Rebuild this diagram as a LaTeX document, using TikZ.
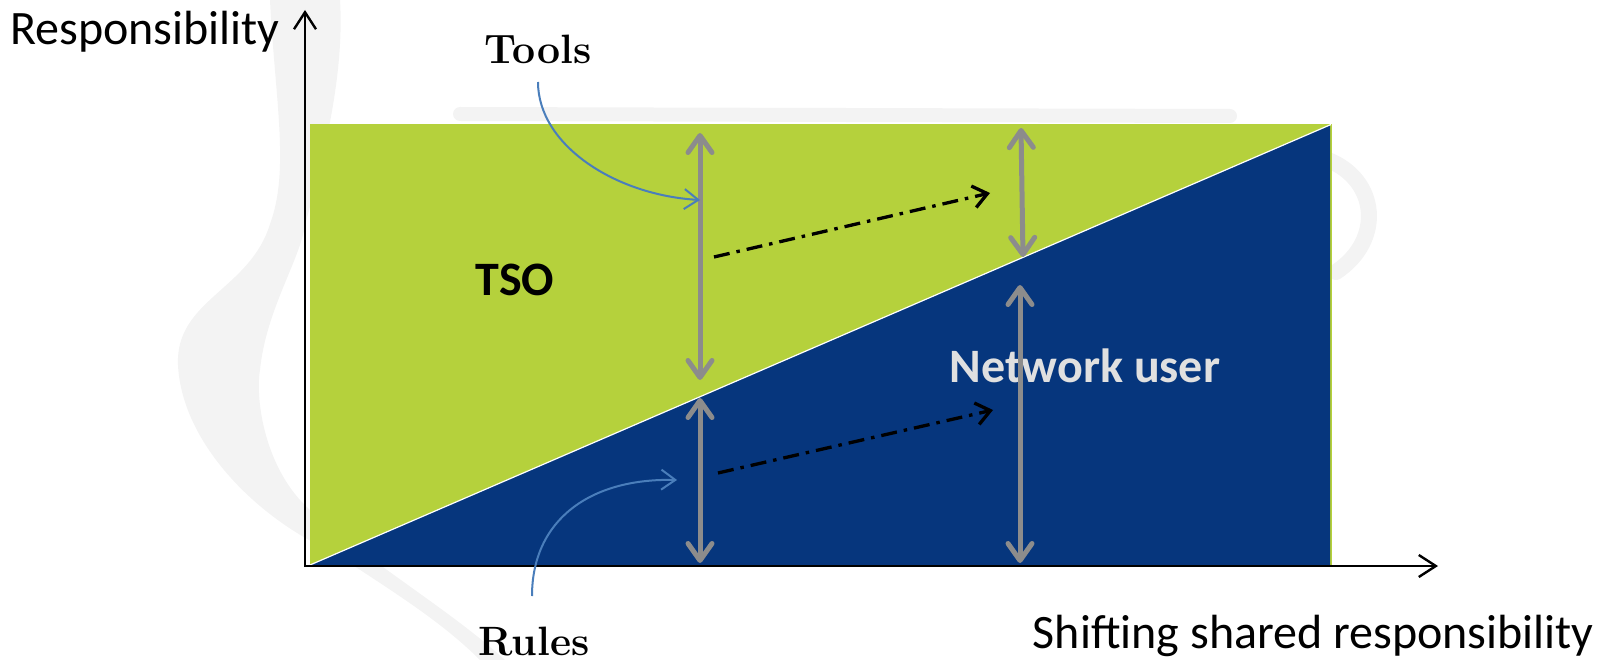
\documentclass[tikz,border=0pt]{standalone}
\usepackage{fontspec}
\newfontfamily\carlito{Carlito}
\usetikzlibrary{arrows.meta}
\definecolor{tsogreen}{RGB}{181,209,60}
\definecolor{userblue}{RGB}{6,54,125}
\definecolor{calloutblue}{RGB}{74,126,187}
\definecolor{shiftgray}{RGB}{140,140,140}
\definecolor{usertext}{RGB}{224,224,224}
\definecolor{wmgray}{RGB}{243,243,243}
\tikzset{
  sanslabel/.style={inner sep=0pt, font=\carlito\fontsize{48}{54}\selectfont},
  boldlabel/.style={inner sep=0pt, font=\carlito\bfseries\fontsize{48}{54}\selectfont},
  seriflabel/.style={inner sep=0pt, font=\bfseries\fontsize{41}{46}\selectfont},
  axisline/.style={line width=2.4pt, >={Straight Barb[length=17pt,width=22pt]}, <->},
  shiftarrow/.style={draw=shiftgray, line width=5pt, >={Straight Barb[length=17pt,width=24pt,round]}, <->},
  dashdotarrow/.style={draw=black, line width=3.3pt, dash pattern=on 16pt off 7pt on 3.5pt off 7pt, >={Straight Barb[length=14pt,width=22pt]}, ->},
  callout/.style={draw=calloutblue, line width=2pt, >={Straight Barb[length=14pt,width=20pt]}, ->},
  watermark/.style={draw=wmgray, line cap=round}
}
\begin{document}
\begin{tikzpicture}[x=1pt,y=-1pt]
\useasboundingbox (0,0) rectangle (1606,660);
% faint background watermark
\fill[wmgray] (270,0) .. controls (275,100) and (290,170) .. (270,224)
  .. controls (250,290) and (175,300) .. (178,365)
  .. controls (182,445) and (260,520) .. (333,552)
  .. controls (390,590) and (440,620) .. (480,660) -- (505,660)
  .. controls (450,610) and (380,570) .. (310,510)
  .. controls (265,470) and (255,400) .. (260,370)
  .. controls (266,310) and (300,260) .. (305,225)
  .. controls (320,170) and (345,80) .. (340,0) -- cycle;
\draw[watermark, line width=14pt] (460,114) -- (1230,116);
\draw[watermark, line width=16pt] (1328,160) .. controls (1378,180) and (1384,240) .. (1336,272);
% coordinates
\coordinate (origin) at (305,566);
\coordinate (ytip) at (305,10);
\coordinate (xtip) at (1438,566);
% areas
\fill[tsogreen] (310,124) rectangle (1332,565);
\fill[userblue] (310,565) -- (1330,125) -- (1330,565) -- cycle;
\draw[white, line width=1.2pt] (310,565) -- (1331,124.5);
% axes
\draw[axisline] (ytip) -- (origin) -- (xtip);
% labels
\node[sanslabel, anchor=base west] (ylab) at (10,45) {Responsibility};
\node[sanslabel, anchor=base east] (xlab) at (1594,648) {Shifting shared responsibility};
\node[boldlabel, anchor=base] (tso) at (515,296) {TSO};
\node[boldlabel, text=usertext, anchor=base] (user) at (1085,382) {Network user};
\node[seriflabel, anchor=base] (tools) at (538,64) {Tools};
\node[seriflabel, anchor=base] (rules) at (534,655) {Rules};
% shifting arrows
\coordinate (a1t) at (700,133);
\coordinate (a1b) at (700,380);
\coordinate (a2t) at (700,398);
\coordinate (a2b) at (700,563);
\coordinate (b1t) at (1021,128);
\coordinate (b1b) at (1023,257);
\coordinate (b2t) at (1020,285);
\coordinate (b2b) at (1020,563);
\draw[shiftarrow] (a1t) -- (a1b);
\draw[shiftarrow] (a2t) -- (a2b);
\draw[shiftarrow] (b1t) -- (b1b);
\draw[shiftarrow] (b2t) -- (b2b);
% dash-dot shift arrows
\coordinate (d1s) at (714,257);
\coordinate (d1e) at (990,193);
\coordinate (d2s) at (718,473);
\coordinate (d2e) at (993,410);
\draw[dashdotarrow] (d1s) -- (d1e);
\draw[dashdotarrow] (d2s) -- (d2e);
% callouts
\coordinate (toolsstart) at (538,82);
\coordinate (toolsend) at (700,200);
\coordinate (rulesstart) at (532,596);
\coordinate (rulesend) at (677,480);
\draw[callout] (toolsstart) .. controls (538,145) and (615,195) .. (toolsend);
\draw[callout] (rulesstart) .. controls (532,520) and (590,478) .. (rulesend);
\end{tikzpicture}
\end{document}
